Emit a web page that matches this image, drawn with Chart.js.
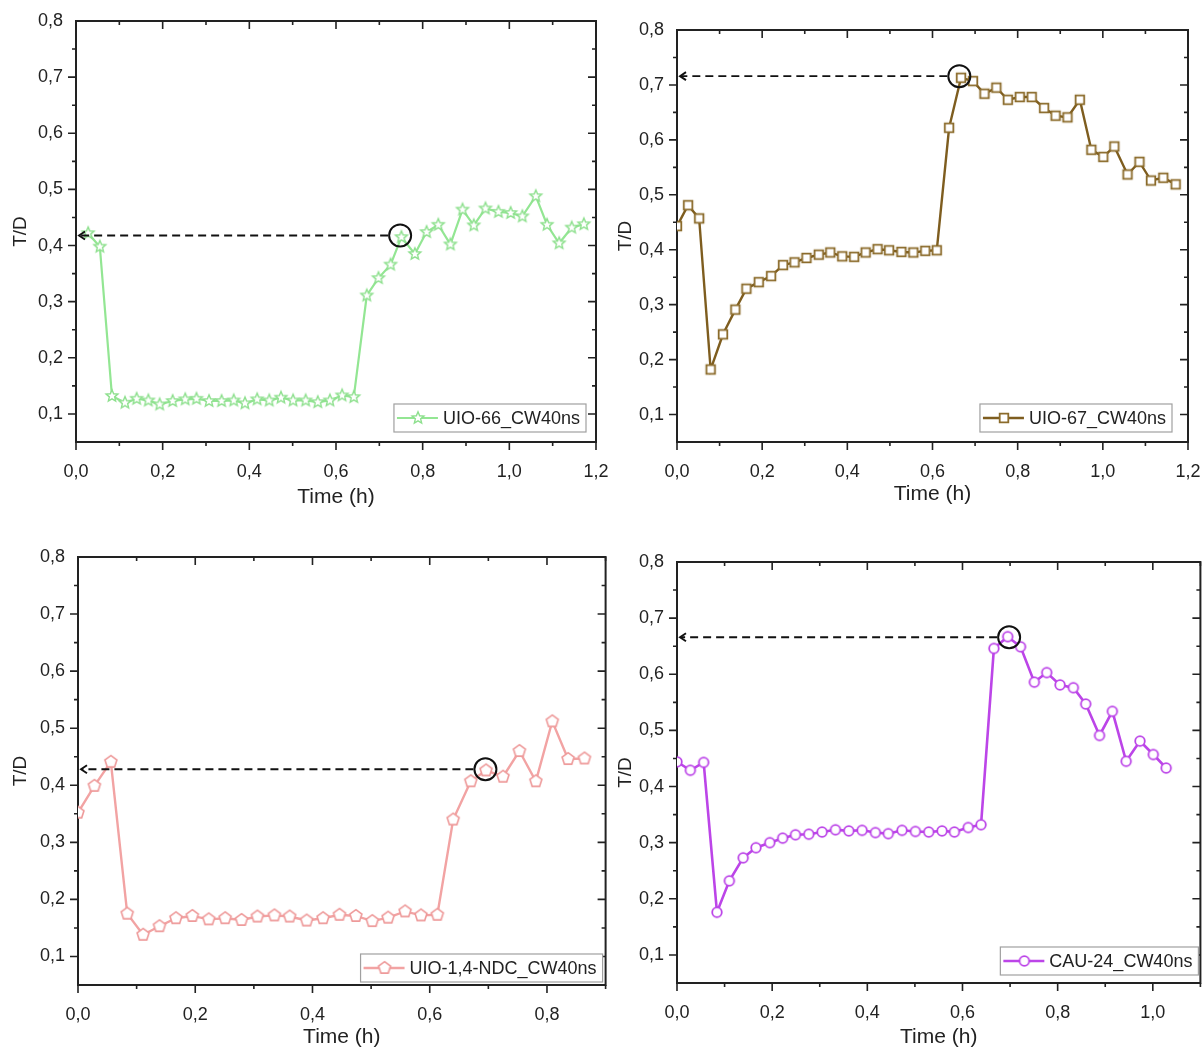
<!DOCTYPE html>
<html>
<head>
<meta charset="utf-8">
<title>T/D vs time</title>
<script src="https://cdn.jsdelivr.net/npm/chart.js@4.4.1/dist/chart.umd.min.js"></script>
<style>
  body { margin: 0; background: #fff; width: 1203px; height: 1050px; position: relative; overflow: hidden; }
  canvas { position: absolute; }
</style>
</head>
<body>
<canvas id="c66" width="612" height="525" style="left:0;top:0"></canvas>
<canvas id="c67" width="598" height="525" style="left:605px;top:0"></canvas>
<canvas id="cNdc" width="614" height="522" style="left:0;top:528px"></canvas>
<canvas id="cCau" width="604" height="522" style="left:605px;top:528px"></canvas>
<script>
// ---- data ----
const uio66Time = [0.028, 0.055, 0.083, 0.113, 0.140, 0.167, 0.193, 0.223, 0.252, 0.278, 0.307, 0.336, 0.364, 0.390,
  0.418, 0.446, 0.473, 0.501, 0.530, 0.558, 0.586, 0.614, 0.641, 0.671, 0.698, 0.726, 0.751, 0.782, 0.809, 0.836,
  0.864, 0.892, 0.918, 0.945, 0.975, 1.003, 1.030, 1.061, 1.087, 1.115, 1.144, 1.172];
const uio66TD = [0.422, 0.398, 0.132, 0.120, 0.127, 0.124, 0.117, 0.123, 0.126, 0.127, 0.123, 0.123, 0.124, 0.119,
  0.126, 0.124, 0.129, 0.124, 0.124, 0.121, 0.124, 0.133, 0.130, 0.311, 0.342, 0.366, 0.415, 0.385, 0.424, 0.437,
  0.402, 0.464, 0.436, 0.466, 0.460, 0.458, 0.452, 0.488, 0.437, 0.404, 0.432, 0.438];
const uio66Peak = [0.748, 0.418];

const uio67Time = [0.0, 0.026, 0.052, 0.079, 0.108, 0.137, 0.163, 0.192, 0.221, 0.249, 0.276, 0.304, 0.333, 0.360,
  0.388, 0.416, 0.443, 0.471, 0.498, 0.527, 0.555, 0.583, 0.610, 0.639, 0.667, 0.695, 0.722, 0.750, 0.777, 0.805,
  0.833, 0.862, 0.889, 0.917, 0.946, 0.973, 1.001, 1.027, 1.058, 1.086, 1.113, 1.142, 1.171];
const uio67TD = [0.443, 0.481, 0.457, 0.182, 0.246, 0.291, 0.329, 0.341, 0.352, 0.372, 0.377, 0.385, 0.391, 0.395,
  0.388, 0.387, 0.395, 0.401, 0.399, 0.396, 0.395, 0.398, 0.399, 0.622, 0.713, 0.707, 0.684, 0.695, 0.673, 0.678,
  0.678, 0.658, 0.644, 0.641, 0.673, 0.582, 0.569, 0.588, 0.537, 0.560, 0.526, 0.531, 0.519];
const uio67Peak = [0.663, 0.716];

const ndcTime = [0.0, 0.028, 0.056, 0.084, 0.111, 0.139, 0.167, 0.195, 0.223, 0.251, 0.279, 0.306, 0.335, 0.361,
  0.390, 0.418, 0.446, 0.474, 0.502, 0.529, 0.558, 0.585, 0.613, 0.640, 0.670, 0.696, 0.725, 0.753, 0.781, 0.809,
  0.836, 0.864];
const ndcTD = [0.352, 0.399, 0.441, 0.175, 0.138, 0.153, 0.167, 0.171, 0.165, 0.167, 0.164, 0.170, 0.172, 0.170,
  0.163, 0.167, 0.173, 0.171, 0.162, 0.168, 0.179, 0.172, 0.173, 0.340, 0.407, 0.426, 0.415, 0.460, 0.407, 0.512,
  0.446, 0.447];
const ndcPeak = [0.695, 0.428];

const cauTime = [0.0, 0.028, 0.056, 0.084, 0.110, 0.139, 0.166, 0.195, 0.222, 0.249, 0.277, 0.305, 0.333, 0.361,
  0.389, 0.417, 0.444, 0.473, 0.501, 0.529, 0.557, 0.583, 0.612, 0.639, 0.666, 0.695, 0.722, 0.751, 0.777, 0.805,
  0.833, 0.859, 0.888, 0.915, 0.944, 0.973, 1.001, 1.028];
const cauTD = [0.444, 0.429, 0.443, 0.176, 0.232, 0.273, 0.291, 0.300, 0.308, 0.314, 0.315, 0.319, 0.323, 0.321,
  0.322, 0.318, 0.316, 0.322, 0.320, 0.319, 0.321, 0.319, 0.327, 0.332, 0.646, 0.667, 0.649, 0.586, 0.603, 0.581,
  0.576, 0.547, 0.491, 0.534, 0.445, 0.481, 0.457, 0.433];
const cauPeak = [0.698, 0.666];

const xTickLabels = ["0,0", "0,2", "0,4", "0,6", "0,8", "1,0", "1,2"];
const yTickLabels = ["0,0", "0,1", "0,2", "0,3", "0,4", "0,5", "0,6", "0,7", "0,8"];

const FONT = "'Liberation Sans', Arial, sans-serif";

function isMultiple(v, step) {
  return Math.abs(v / step - Math.round(v / step)) < 1e-6;
}

function markerCanvas(shape, color, size, lw) {
  const c = document.createElement("canvas");
  c.width = c.height = 18;
  const g = c.getContext("2d");
  g.translate(9, 9);
  g.beginPath();
  if (shape === "star") {
    for (let i = 0; i < 10; i++) {
      const r = i % 2 ? size * 0.45 : size;
      const a = -Math.PI / 2 + i * Math.PI / 5;
      g.lineTo(r * Math.cos(a), r * Math.sin(a));
    }
    g.closePath();
  } else if (shape === "pentagon") {
    for (let i = 0; i < 5; i++) {
      const a = -Math.PI / 2 + i * 2 * Math.PI / 5;
      g.lineTo(size * Math.cos(a), size * Math.sin(a));
    }
    g.closePath();
  } else if (shape === "square") {
    g.rect(-size, -size, 2 * size, 2 * size);
  } else {
    g.arc(0, 0, size, 0, 2 * Math.PI);
  }
  g.fillStyle = "#fff";
  g.fill();
  g.strokeStyle = color;
  g.lineWidth = lw;
  g.stroke();
  return c;
}

const panels = [
  { id: "c66", time: uio66Time, td: uio66TD, peak: uio66Peak, label: "UIO-66_CW40ns", xMax: 1.2,
    color: "#93e693", marker: markerCanvas("star", "#8ee08e", 6.2, 1.4), lineWidth: 2.2,
    yWidth: 76, xHeight: 83, pad: { top: 21, right: 16, left: 0, bottom: 0 }, xTitlePad: 15, yTitlePad: 9,
    legendGap: [10, 10] },
  { id: "c67", time: uio67Time, td: uio67TD, peak: uio67Peak, label: "UIO-67_CW40ns", xMax: 1.2,
    color: "#7e5d1f", marker: markerCanvas("square", "#8b6b2b", 4.3, 1.8), lineWidth: 2.4,
    yWidth: 72, xHeight: 83, pad: { top: 30, right: 15, left: 0, bottom: 0 }, xTitlePad: 18, yTitlePad: 9,
    legendGap: [16, 10] },
  { id: "cNdc", time: ndcTime, td: ndcTD, peak: ndcPeak, label: "UIO-1,4-NDC_CW40ns", xMax: 0.9,
    color: "#f2a3a3", marker: markerCanvas("pentagon", "#ee9a9a", 6.3, 1.6), lineWidth: 2.4,
    yWidth: 78, xHeight: 65, pad: { top: 29, right: 6, left: 0, bottom: 0 }, xTitlePad: 0, yTitlePad: 9,
    legendGap: [3, 3] },
  { id: "cCau", time: cauTime, td: cauTD, peak: cauPeak, label: "CAU-24_CW40ns", xMax: 1.1,
    color: "#bc45e8", marker: markerCanvas("circle", "#bc45e8", 4.8, 1.8), lineWidth: 2.6,
    yWidth: 72, xHeight: 67, pad: { top: 34, right: 2, left: 0, bottom: 0 }, xTitlePad: 0, yTitlePad: 9,
    legendGap: [2, 8] },
];

// frame with Origin-like ticks: out on bottom/left, in on top/right
const framePlugin = {
  id: "frame",
  beforeDatasetsDraw(chart) {
    const { ctx, chartArea: a, scales: { x, y } } = chart;
    ctx.save();
    ctx.strokeStyle = "#222";
    ctx.lineWidth = 2;
    ctx.strokeRect(a.left, a.top, a.right - a.left, a.bottom - a.top);
    ctx.lineWidth = 1.6;
    ctx.beginPath();
    x.ticks.forEach((t) => {
      const px = x.getPixelForValue(t.value);
      const len = t.label ? 8 : 4;
      ctx.moveTo(px, a.bottom); ctx.lineTo(px, a.bottom + len);
      ctx.moveTo(px, a.top); ctx.lineTo(px, a.top + len);
    });
    y.ticks.forEach((t) => {
      const py = y.getPixelForValue(t.value);
      if (py > a.bottom - 1 || py < a.top + 1) return;
      const len = t.label ? 8 : 4;
      ctx.moveTo(a.left, py); ctx.lineTo(a.left - len, py);
      ctx.moveTo(a.right, py); ctx.lineTo(a.right - len, py);
    });
    ctx.stroke();
    ctx.restore();
  },
};

function overlayPlugin(p) {
  return {
    id: "overlay",
    afterDatasetsDraw(chart) {
      const { ctx, chartArea: a, scales: { x, y } } = chart;
      ctx.save();

      // dashed arrow from the circled point to the y axis
      const cx = x.getPixelForValue(p.peak[0]);
      const cy = y.getPixelForValue(p.peak[1]);
      ctx.strokeStyle = "#111";
      ctx.lineWidth = 1.9;
      ctx.setLineDash([8, 5]);
      ctx.beginPath();
      ctx.moveTo(cx - 12, cy);
      ctx.lineTo(a.left + 4, cy);
      ctx.stroke();
      ctx.setLineDash([]);
      ctx.beginPath();
      ctx.moveTo(a.left + 9, cy - 4);
      ctx.lineTo(a.left + 3, cy);
      ctx.lineTo(a.left + 9, cy + 4);
      ctx.stroke();
      ctx.lineWidth = 2;
      ctx.beginPath();
      ctx.arc(cx, cy, 11, 0, 2 * Math.PI);
      ctx.stroke();

      // legend box in the lower right corner
      ctx.font = "18px " + FONT;
      const tw = ctx.measureText(p.label).width;
      const w = 55 + tw, h = 28;
      const x0 = a.right - p.legendGap[0] - w;
      const y0 = a.bottom - p.legendGap[1] - h;
      ctx.fillStyle = "#fff";
      ctx.fillRect(x0, y0, w, h);
      ctx.strokeStyle = "#a0a0a0";
      ctx.lineWidth = 1.2;
      ctx.strokeRect(x0, y0, w, h);
      const my = y0 + h / 2;
      ctx.strokeStyle = p.color;
      ctx.lineWidth = p.lineWidth;
      ctx.beginPath();
      ctx.moveTo(x0 + 3, my);
      ctx.lineTo(x0 + 44, my);
      ctx.stroke();
      ctx.drawImage(p.marker, x0 + 24 - 9, my - 9);
      ctx.fillStyle = "#222";
      ctx.textBaseline = "middle";
      ctx.fillText(p.label, x0 + 49, my + 1);

      ctx.restore();
    },
  };
}

function makeChart(p) {
  return new Chart(document.getElementById(p.id), {
    type: "line",
    data: {
      datasets: [{
        label: p.label,
        data: p.time.map((t, i) => ({ x: t, y: p.td[i] })),
        borderColor: p.color,
        borderWidth: p.lineWidth,
        pointStyle: p.marker,
        pointRadius: 6,
        tension: 0,
      }],
    },
    options: {
      responsive: false,
      animation: false,
      devicePixelRatio: 1,
      layout: { padding: p.pad },
      plugins: { legend: { display: false }, tooltip: { enabled: false } },
      scales: {
        x: {
          type: "linear",
          min: 0,
          max: p.xMax,
          grid: { display: false, drawTicks: false },
          border: { display: false },
          ticks: {
            stepSize: 0.1,
            includeBounds: false,
            autoSkip: false,
            maxRotation: 0,
            padding: 19,
            color: "#222",
            font: { family: FONT, size: 18 },
            callback: (v) => (isMultiple(v, 0.2) ? xTickLabels[Math.round(v / 0.2)] : ""),
          },
          title: {
            display: true,
            text: "Time (h)",
            color: "#222",
            font: { family: FONT, size: 21 },
            padding: { top: 0, bottom: p.xTitlePad },
          },
          afterFit: (s) => {
            s.height = p.xHeight;
            s.paddingLeft = 0;
            s.paddingRight = 0;
          },
        },
        y: {
          min: 0.05,
          max: 0.8,
          grid: { display: false, drawTicks: false },
          border: { display: false },
          ticks: {
            stepSize: 0.05,
            includeBounds: false,
            autoSkip: false,
            padding: 13,
            color: "#222",
            font: { family: FONT, size: 18 },
            callback: (v) => (isMultiple(v, 0.1) ? yTickLabels[Math.round(v / 0.1)] : ""),
          },
          title: {
            display: true,
            text: "T/D",
            color: "#222",
            font: { family: FONT, size: 19 },
            padding: { top: p.yTitlePad, bottom: 0 },
          },
          afterFit: (s) => {
            s.width = p.yWidth;
            s.paddingTop = 0;
            s.paddingBottom = 0;
          },
        },
      },
    },
    plugins: [framePlugin, overlayPlugin(p)],
  });
}

panels.forEach(makeChart);
</script>
</body>
</html>
